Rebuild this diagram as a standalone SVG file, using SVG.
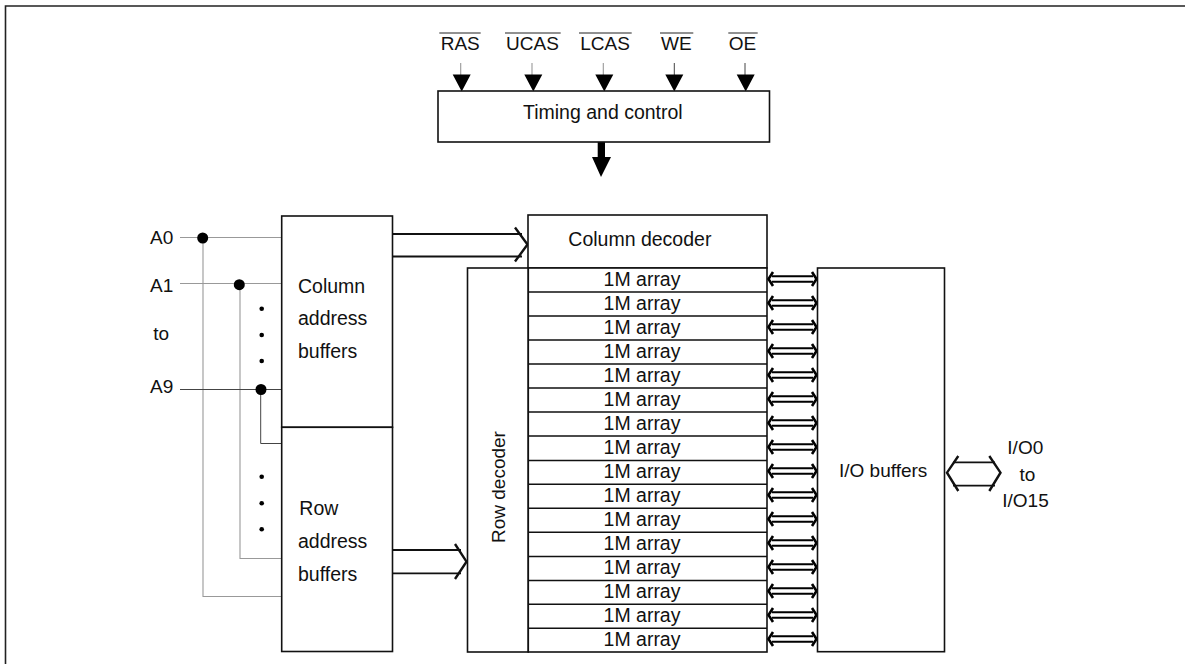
<svg xmlns="http://www.w3.org/2000/svg" width="1185" height="664" viewBox="0 0 1185 664">
<defs>
<style>
text{font-family:"Liberation Sans",Arial,sans-serif;font-size:19.500px;fill:#111}
.box{fill:#fff;stroke:#111;stroke-width:1.600}
.w{fill:none;stroke:#999;stroke-width:1.100}
.d{fill:none;stroke:#444;stroke-width:1}
.bus{fill:none;stroke:#111;stroke-width:1.800}
.hd{fill:none;stroke:#111;stroke-width:2.400}
.m{text-anchor:middle}
.o{stroke:#222;stroke-width:1;fill:none}
.a{font-size:19px}
</style>
<g id="dbl"><path d="M772 -2.800H813M772 2.800H813" fill="none" stroke="#000" stroke-width="2"/><path d="M773 -7L768.500 0L773 7M812 -7L816.500 0L812 7" fill="none" stroke="#000" stroke-width="2.600"/></g>
</defs>
<rect width="1185" height="664" fill="#fff"/>
<path d="M5.500 664V6H1185" fill="none" stroke="#222" stroke-width="1.600"/>
<g id="connectors">
<path class="w" d="M460.700 63V80M532 63V80M603.300 63V80"/><path class="d" d="M674.300 63V80M745 63V80"/>
<path d="M452.700 74.500H470.700L461.700 91.500ZM524.300 74.500H542.300L533.300 91.500ZM595.300 74.500H613.300L604.300 91.500ZM665.300 74.500H683.300L674.300 91.500ZM736.700 74.500H754.700L745.700 91.500Z" fill="#000"/>
<path d="M597.700 142H605V157H611L601 177L592 157H597.700Z" fill="#000"/>
<path class="w" d="M180 237.500H281M180 283.500H281M203 237.500V596.500H281M240 283.500V558.500H281"/>
<path class="d" d="M180 389.500H281M260.700 389.500V443.500H281"/>
<circle cx="202.700" cy="238" r="5.500" fill="#000"/><circle cx="239.300" cy="284.700" r="5.500" fill="#000"/><circle cx="261" cy="389.500" r="5.500" fill="#000"/>
<circle cx="261.700" cy="308.700" r="2.300" fill="#000"/><circle cx="261.700" cy="335" r="2.300" fill="#000"/><circle cx="261.700" cy="361" r="2.300" fill="#000"/>
<circle cx="261.700" cy="476.700" r="2.300" fill="#000"/><circle cx="261.700" cy="503.300" r="2.300" fill="#000"/><circle cx="261.700" cy="529.300" r="2.300" fill="#000"/>
<path class="bus" d="M393 234H522M393 256.500H522"/>
<path class="hd" d="M515 227.500L527.500 244.500L515 261.500"/>
<path class="bus" d="M393 550H461M393 573.300H461"/>
<path class="hd" d="M455 544L466.500 561.700L455 579"/>
<path class="bus" d="M953 462.300H995M953 485.700H995"/>
<path class="hd" d="M958.300 456L947 472.700L958.300 491M989.300 456L1000.500 472.700L989.300 491"/>
</g>
<g id="timing"><rect class="box" x="438" y="91" width="331.500" height="51"/><text x="523" y="119">Timing and control</text></g>
<g id="column-address"><rect class="box" x="281.700" y="216" width="110.800" height="211.300"/><text x="298" y="292.700">Column</text><text x="298" y="325">address</text><text x="298" y="357.700">buffers</text></g>
<g id="row-address"><rect class="box" x="281.700" y="427.300" width="110.800" height="224.200"/><text x="299.300" y="515">Row</text><text x="298" y="548.300">address</text><text x="298" y="581">buffers</text></g>
<g id="column-decoder"><rect class="box" x="528" y="215" width="239" height="53"/><text x="568.300" y="245.700">Column decoder</text></g>
<g id="row-decoder"><rect class="box" x="467.500" y="268" width="60.800" height="384"/><text class="a" transform="translate(505 543) rotate(-90)">Row decoder</text></g>
<g id="arrays">
<rect class="box" x="528.300" y="268" width="238.700" height="384"/>
<path stroke="#111" stroke-width="1.500" d="M528 292H767M528 316H767M528 340H767M528 364H767M528 388H767M528 412H767M528 436H767M528 460.500H767M528 484.300H767M528 508.300H767M528 532.300H767M528 556.500H767M528 580.500H767M528 604.300H767M528 628.300H767"/>
<text class="m" x="642" y="286">1M array</text><text class="m" x="642" y="310">1M array</text><text class="m" x="642" y="334">1M array</text><text class="m" x="642" y="358">1M array</text><text class="m" x="642" y="382">1M array</text><text class="m" x="642" y="406">1M array</text><text class="m" x="642" y="430">1M array</text><text class="m" x="642" y="454">1M array</text><text class="m" x="642" y="477.500">1M array</text><text class="m" x="642" y="501.500">1M array</text><text class="m" x="642" y="525.500">1M array</text><text class="m" x="642" y="549.500">1M array</text><text class="m" x="642" y="573.500">1M array</text><text class="m" x="642" y="597.500">1M array</text><text class="m" x="642" y="621.500">1M array</text><text class="m" x="642" y="645.500">1M array</text>
</g>
<g id="array-links"><use href="#dbl" y="279"/><use href="#dbl" y="303"/><use href="#dbl" y="327"/><use href="#dbl" y="351"/><use href="#dbl" y="375"/><use href="#dbl" y="399"/><use href="#dbl" y="423"/><use href="#dbl" y="447"/><use href="#dbl" y="471"/><use href="#dbl" y="495"/><use href="#dbl" y="519"/><use href="#dbl" y="543"/><use href="#dbl" y="567"/><use href="#dbl" y="591"/><use href="#dbl" y="615"/><use href="#dbl" y="639"/></g>
<g id="io-buffers"><rect class="box" x="817.500" y="268" width="127" height="383.700"/><text class="a" x="839" y="477.300">I/O buffers</text></g>
<g id="labels">
<text class="a" x="150" y="244">A0</text><text class="a" x="150" y="291.700">A1</text><text class="a" x="153.300" y="340">to</text><text class="a" x="150" y="393.300">A9</text>
<text class="m a" x="1025.300" y="454">I/O0</text><text class="m a" x="1027.500" y="481">to</text><text class="m a" x="1025.500" y="506.700">I/O15</text>
<text class="m a" x="460.200" y="49.500">RAS</text><text class="m a" x="532.500" y="49.500">UCAS</text><text class="m a" x="605" y="49.500">LCAS</text><text class="m a" x="676.300" y="49.500">WE</text><text class="m a" x="742.500" y="49.500">OE</text>
<path class="o" d="M439.300 33H480.700M505 33H560.700M579 33H631.700M660 33H693.300M728.300 33H757.700"/>
</g>
</svg>
